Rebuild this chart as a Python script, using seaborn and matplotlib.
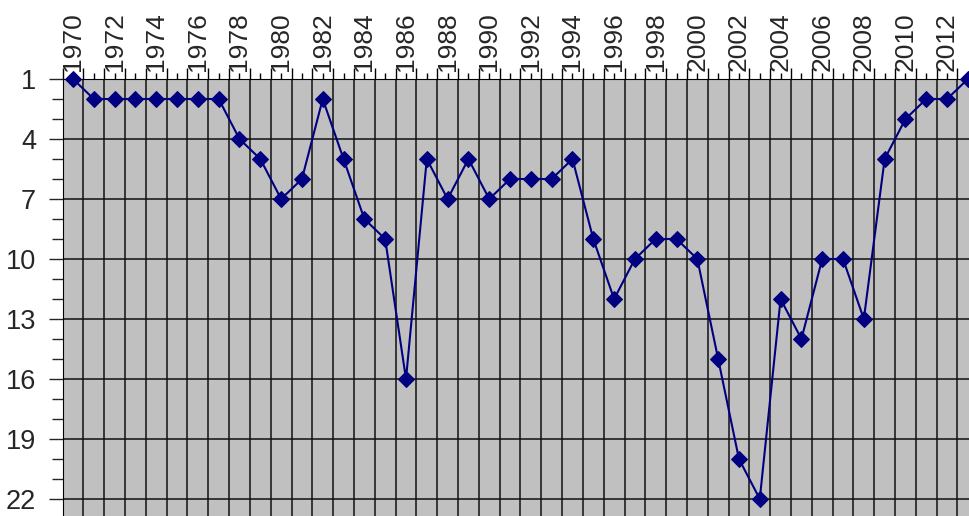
import numpy as np
import pandas as pd
import seaborn as sns
import matplotlib.pyplot as plt

years = list(range(1970, 2014))
rank = [1, 2, 2, 2, 2, 2, 2, 2, 4, 5,
        7, 6, 2, 5, 8, 9, 16, 5, 7, 5,
        7, 6, 6, 6, 5, 9, 12, 10, 9, 9,
        10, 15, 20, 22, 12, 14, 10, 10, 13, 5,
        3, 2, 2, 1]
year_labels = [str(y) if y % 2 == 0 else "" for y in years]
y_major = [1, 4, 7, 10, 13, 16, 19, 22]

df = pd.DataFrame({"year": years, "rank": rank})

sns.set_style("ticks", {"axes.facecolor": "#C0C0C0", "axes.edgecolor": "black"})
plt.rcParams["font.family"] = ["Liberation Sans", "DejaVu Sans"]

fig = plt.figure(figsize=(9.7, 5.16), dpi=100)
# axes run past the right and bottom edge of the picture, as in the original crop
ax = fig.add_axes([62.6 / 970, 1 - 559 / 516, 915.7 / 970, 480 / 516])

sns.lineplot(data=df, x="year", y="rank", ax=ax, color="#000080", lw=1.5,
             marker="D", markersize=8.5, markeredgecolor="#000080", zorder=5,
             clip_on=False)

ax.set_xlim(1969.5, 2013.5)
ax.set_ylim(25, 1)

# x: boundaries as major (grid), year centres as minor (labels)
bounds = np.arange(1969.5, 2014, 1.0)
ax.set_xticks(bounds, [""] * len(bounds))
ax.set_xticks(years, year_labels, minor=True, fontsize=19, rotation=90,
              family=["Liberation Sans Narrow", "Liberation Sans"])
ax.xaxis.tick_top()
ax.tick_params(axis="x", which="major", length=8, width=1, color="black")
ax.tick_params(axis="x", which="minor", length=4, width=1, color="black", pad=2)

ax.set_yticks(y_major, [str(v) for v in y_major], fontsize=19.5)
ax.set_yticks(range(1, 26), minor=True)
ax.tick_params(axis="y", which="major", length=10, width=1, pad=9)
ax.tick_params(axis="y", which="minor", length=8, width=1)

ax.grid(True, which="major", axis="both", color="#111111", lw=1.1)
ax.set_axisbelow(True)
ax.set_xlabel("")
ax.set_ylabel("")
for s in ["right", "bottom"]:
    ax.spines[s].set_visible(False)

fig.savefig("out.png", dpi=100)
